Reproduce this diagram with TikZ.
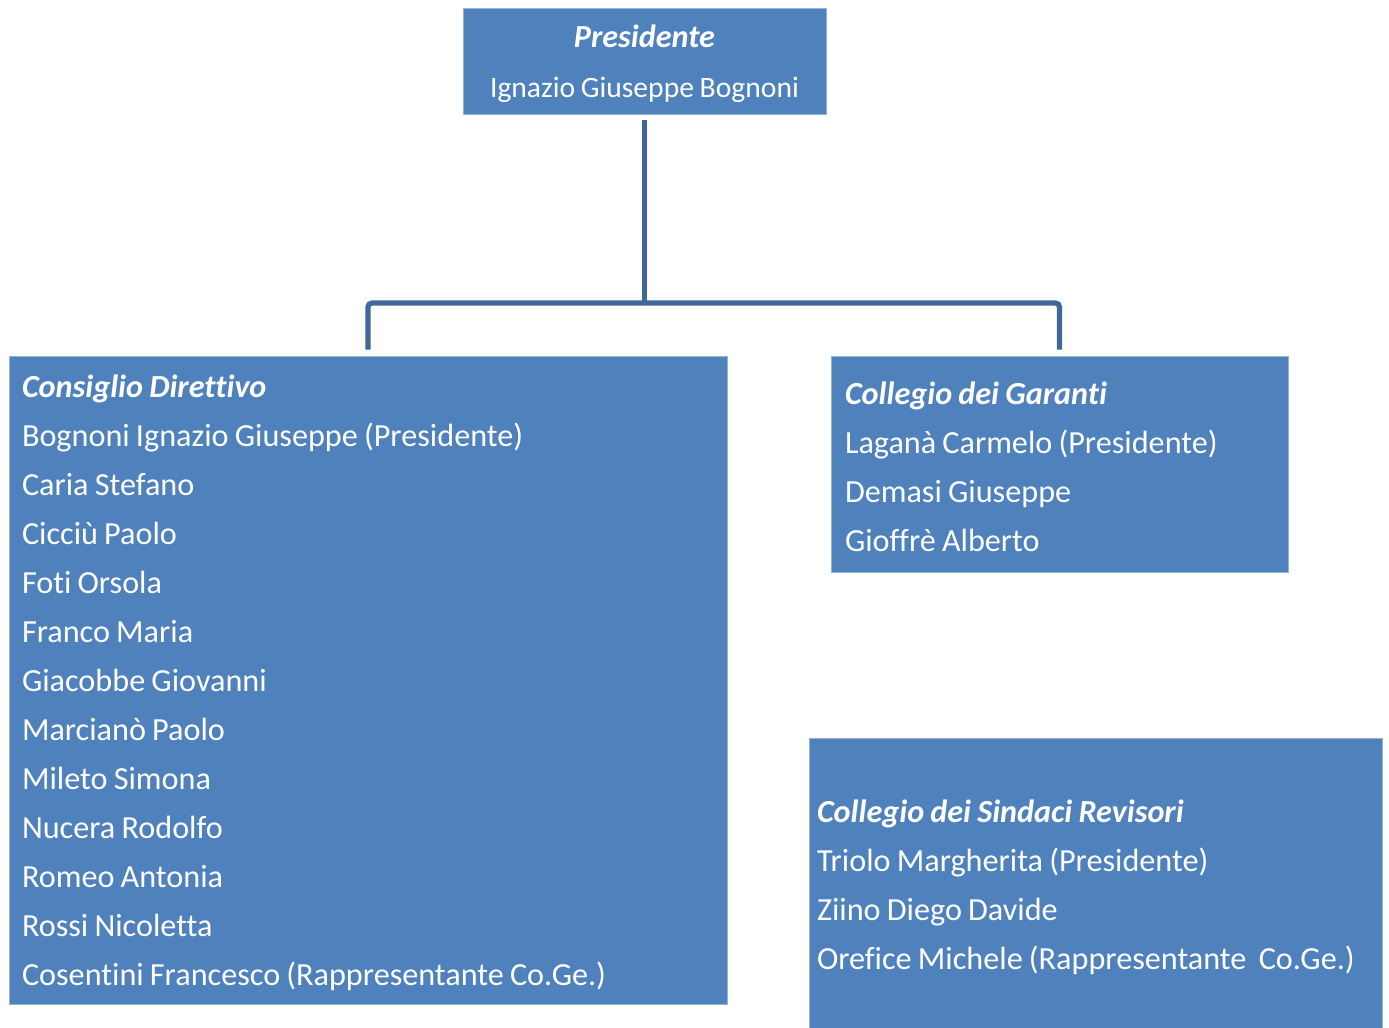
\documentclass[tikz,border=0pt]{standalone}
\usepackage{fontspec}
\setmainfont{Carlito}[Ligatures=NoCommon, WordSpace=0.85]
\definecolor{boxblue}{HTML}{4F81BD}
\definecolor{linkblue}{HTML}{3F6797}
\tikzset{
  orgbox/.style={fill=boxblue, draw=boxblue!60!white, line width=0.4pt, text=white,
    font=\fontsize{16.1}{24.5}\selectfont, align=flush left},
  link/.style={draw=linkblue, line width=2.6pt, rounded corners=2pt}
}
\newcommand\boxtitle[2][14pt]{\rule{0pt}{#1}\textbf{\textit{#2}}}
\begin{document}
\begin{tikzpicture}[x=0.5pt,y=-0.5pt]
      \useasboundingbox (0,0) rectangle (1389,1028);
      \draw
        (644.5,61) node[orgbox, align=center, minimum width=181.5pt, minimum height=53pt] (pres)
          {\boxtitle[14pt]{Presidente}\\[0.5pt]
           {\fontsize{14.8}{24}\selectfont Ignazio Giuseppe Bognoni}}
        (368,680) node[orgbox, inner xsep=6.5pt, text width=346pt, minimum height=324pt] (consiglio)
          {\boxtitle{Consiglio Direttivo}\\
           Bognoni Ignazio Giuseppe (Presidente)\\
           Caria Stefano\\
           Cicciù Paolo\\
           Foti Orsola\\
           Franco Maria\\
           Giacobbe Giovanni\\
           Marcianò Paolo\\
           Mileto Simona\\
           Nucera Rodolfo\\
           Romeo Antonia\\
           Rossi Nicoletta\\
           Cosentini Francesco (Rappresentante Co.Ge.)}
        (1059.5,464) node[orgbox, inner xsep=7pt, text width=214.5pt, minimum height=108pt] (garanti)
          {\boxtitle{Collegio dei Garanti}\\
           Laganà Carmelo (Presidente)\\
           Demasi Giuseppe\\
           Gioffrè Alberto}
        (1095.5,883) node[orgbox, inner xsep=4pt, text width=278.5pt, minimum height=145pt] (sindaci)
          {\boxtitle[16pt]{Collegio dei Sindaci Revisori}\\
           Triolo Margherita (Presidente)\\
           Ziino Diego Davide\\
           Orefice Michele (Rappresentante~~Co.Ge.)};
      \coordinate (fork) at (644.5,303);
      \begin{scope}[link]
        \draw ([yshift=-3pt]pres.south) -- (fork);
        \draw ([yshift=3pt]consiglio.north) |- (fork) -| ([yshift=3pt]garanti.north);
      \end{scope}
    \end{tikzpicture}
\end{document}
